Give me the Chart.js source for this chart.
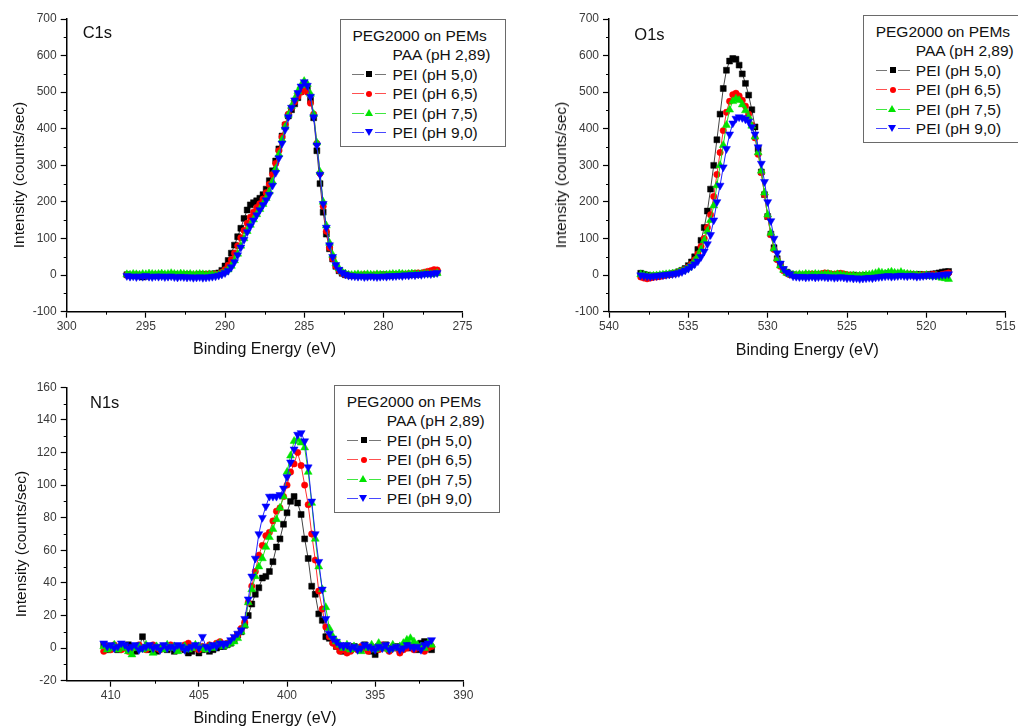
<!DOCTYPE html>
<html>
<head>
<meta charset="utf-8">
<script src="https://cdn.jsdelivr.net/npm/chart.js@4.4.1/dist/chart.umd.min.js"></script>
<style>
  html, body { margin: 0; padding: 0; background: #fff; }
  body { width: 1018px; height: 727px; position: relative; overflow: hidden;
         font-family: 'Liberation Sans', Arial, sans-serif; }
  .panel { position: absolute; }
  .panel canvas { display: block; }
  .tag { position: absolute; font-size: 16.5px; line-height: 16.5px; color: #111; white-space: nowrap; }
  .ytitle { position: absolute; font-size: 15.5px; line-height: 16px; color: #111; white-space: nowrap;
            transform: translate(-50%, -50%) rotate(-90deg); }
  .legend { position: absolute; box-sizing: border-box; width: 166px; height: 128px;
            border: 1px solid #6a6a6a; background: #fff; font-size: 15.5px; color: #111; }
  .legend .row { position: absolute; height: 19px; line-height: 19px; white-space: nowrap; }
  .legend .sym { position: absolute; width: 34px; height: 19px; }
  .legend .ln { position: absolute; top: 9px; height: 1px; }
  .legend .mk { position: absolute; }
</style>
</head>
<body>
<div class="panel" id="p1" style="left:0;top:0;"><canvas id="c1" width="500" height="365"></canvas></div>
<div class="panel" id="p2" style="left:540px;top:0;"><canvas id="c2" width="478" height="365"></canvas></div>
<div class="panel" id="p3" style="left:0;top:370px;"><canvas id="c3" width="500" height="357"></canvas></div>

<script>
// ---------- series names and legend text ----------
const seriesLabels = ['PEI (pH 5,0)', 'PEI (pH 6,5)', 'PEI (pH 7,5)', 'PEI (pH 9,0)'];
const legendHeader = 'PEG2000 on PEMs';
const legendSubHeader = 'PAA (pH 2,89)';
const panelNames = ['C1s', 'O1s', 'N1s'];
const xAxisTitle = 'Binding Energy (eV)';
const yAxisTitle = 'Intensity (counts/sec)';

// ---------- C1s ----------
const c1sEnergy = [
  296.2,296.0,295.8,295.6,295.4,295.2,295.0,294.8,294.6,294.4,
  294.2,294.0,293.8,293.6,293.4,293.2,293.0,292.8,292.6,292.4,
  292.2,292.0,291.8,291.6,291.4,291.2,291.0,290.8,290.6,290.4,
  290.2,290.0,289.8,289.6,289.4,289.2,289.0,288.8,288.6,288.4,
  288.2,288.0,287.8,287.6,287.4,287.2,287.0,286.8,286.6,286.4,
  286.2,286.0,285.8,285.6,285.4,285.2,285.0,284.8,284.6,284.4,
  284.2,284.0,283.8,283.6,283.4,283.2,283.0,282.8,282.6,282.4,
  282.2,282.0,281.8,281.6,281.4,281.2,281.0,280.8,280.6,280.4,
  280.2,280.0,279.8,279.6,279.4,279.2,279.0,278.8,278.6,278.4,
  278.2,278.0,277.8,277.6,277.4,277.2,277.0,276.8,276.6
];
const c1sPH50 = [
  1,0,-1,0,-2,-5,-3,-1,0,-1,0,1,0,-1,0,1,0,-1,0,1,0,-1,0,1,2,1,2,3,4,
  6,13,25,40,60,82,105,128,155,178,192,198,203,210,220,235,258,285,312,345,
  380,410,435,452,468,485,502,515,510,478,430,340,250,172,112,72,44,24,12,5,1,0,-1,
  -1,0,-1,0,-2,-1,0,-1,0,1,0,-1,0,1,0,1,2,1,2,3,2,4,5,4,6,7,8
];
const c1sPH65 = [
  0,-1,0,1,0,-1,-2,-1,0,1,0,-1,0,0,1,0,-1,0,1,0,1,0,1,2,1,2,3,2,3,
  3,8,15,27,42,60,80,102,122,142,158,172,185,195,208,225,248,275,305,340,
  378,412,440,458,474,488,500,510,500,470,440,360,278,188,120,75,45,25,13,6,2,0,-1,
  0,-1,0,1,0,-1,0,1,0,-1,0,1,2,1,2,3,2,4,3,5,6,5,8,10,12,15,14
];
const c1sPH75 = [
  2,1,3,2,1,3,2,4,3,2,3,4,2,3,5,3,2,4,3,2,3,1,2,3,2,1,2,1,0,
  1,4,8,15,25,40,58,80,100,120,137,152,166,180,194,210,228,255,290,330,
  370,405,438,462,482,502,518,530,522,495,440,362,282,200,135,88,55,32,18,9,4,1,0,
  1,2,0,1,2,1,0,2,1,0,1,2,3,2,4,3,2,3,4,3,2,3,4,3,2,3,5
];
const c1sPH90 = [
  -2,-4,-3,-5,-3,-4,-2,-4,-5,-3,-4,-3,-5,-4,-3,-5,-6,-4,-5,-6,-5,-7,-6,-5,-7,-6,-5,-4,-3,
  -1,2,6,12,22,36,55,76,97,118,134,150,164,178,192,205,220,245,280,320,
  360,398,432,458,478,498,516,528,518,488,432,355,275,195,130,82,50,28,15,7,2,-1,-2,
  -3,-4,-3,-5,-4,-3,-4,-5,-4,-3,-4,-2,-3,-2,-1,-2,0,-1,1,0,2,1,3,4,3,5,6
];

// ---------- O1s ----------
const o1sEnergy = [
  538.0,537.8,537.6,537.4,537.2,537.0,536.8,536.6,536.4,536.2,
  536.0,535.8,535.6,535.4,535.2,535.0,534.8,534.6,534.4,534.2,
  534.0,533.8,533.6,533.4,533.2,533.0,532.8,532.6,532.4,532.2,
  532.0,531.8,531.6,531.4,531.2,531.0,530.8,530.6,530.4,530.2,
  530.0,529.8,529.6,529.4,529.2,529.0,528.8,528.6,528.4,528.2,
  528.0,527.8,527.6,527.4,527.2,527.0,526.8,526.6,526.4,526.2,
  526.0,525.8,525.6,525.4,525.2,525.0,524.8,524.6,524.4,524.2,
  524.0,523.8,523.6,523.4,523.2,523.0,522.8,522.6,522.4,522.2,
  522.0,521.8,521.6,521.4,521.2,521.0,520.8,520.6,520.4,520.2,
  520.0,519.8,519.6,519.4,519.2,519.0,518.8,518.6
];
const o1sPH50 = [
  5,2,0,-2,-3,-2,-1,0,1,2,4,
  6,9,13,18,26,36,50,70,95,130,175,235,300,370,440,510,560,585,592,590,
  574,550,524,492,452,405,345,282,220,160,112,75,45,28,15,8,3,
  1,-1,0,-2,-1,0,-1,1,0,-1,-2,-1,0,1,0,-1,0,-2,-1,0,-2,-3,-2,-1,-3,
  -2,-1,0,2,3,4,3,2,1,3,2,1,2,0,1,2,1,0,2,3,4,6,8,9,10
];
const o1sPH65 = [
  -5,-8,-10,-8,-6,-5,-4,-2,0,2,3,
  5,8,12,16,22,30,42,58,78,100,130,165,215,275,335,395,445,475,493,497,
  490,478,462,440,410,375,330,280,220,160,110,70,42,24,12,5,1,
  0,-1,1,0,2,1,3,2,1,4,6,5,3,2,4,5,3,1,0,-2,-3,-2,-4,-3,-5,
  -3,-2,0,1,2,3,2,4,3,2,1,3,2,0,-1,0,1,-1,0,2,1,-1,2,4,6
];
const o1sPH75 = [
  2,0,-2,-3,-2,-1,0,1,2,3,4,
  5,8,11,15,20,27,38,52,70,95,120,150,190,245,300,355,410,452,475,482,
  478,466,450,432,408,378,335,285,225,165,115,72,45,26,14,6,2,
  1,0,2,1,3,2,1,3,2,1,2,3,1,0,2,1,0,-1,-2,-1,-3,-2,-1,0,1,
  3,5,8,6,4,7,9,6,5,8,4,3,2,1,0,-1,-2,0,-3,-4,-2,-5,-8,-9,-11
];
const o1sPH90 = [
  0,-2,-3,-4,-3,-2,-1,0,1,2,3,
  4,6,9,13,18,24,30,38,50,65,85,110,150,200,245,295,345,385,415,428,
  432,430,426,420,405,385,350,305,255,200,148,100,60,32,17,8,3,
  -3,-4,-5,-4,-6,-5,-4,-6,-5,-4,-5,-6,-5,-7,-6,-5,-6,-8,-7,-9,-8,-10,-9,-8,-7,
  -8,-6,-5,-4,-3,-2,-4,-3,-2,-1,-2,-3,-1,-2,-4,-3,-2,-1,0,-2,-1,0,1,2,3
];

// ---------- N1s ----------
const n1sEnergy = [
  410.4,410.2,410.0,409.8,409.6,409.4,409.2,409.0,408.8,408.6,
  408.4,408.2,408.0,407.8,407.6,407.4,407.2,407.0,406.8,406.6,
  406.4,406.2,406.0,405.8,405.6,405.4,405.2,405.0,404.8,404.6,
  404.4,404.2,404.0,403.8,403.6,403.4,403.2,403.0,402.8,402.6,
  402.4,402.2,402.0,401.8,401.6,401.4,401.2,401.0,400.8,400.6,
  400.4,400.2,400.0,399.8,399.6,399.4,399.2,399.0,398.8,398.6,
  398.4,398.2,398.0,397.8,397.6,397.4,397.2,397.0,396.8,396.6,
  396.4,396.2,396.0,395.8,395.6,395.4,395.2,395.0,394.8,394.6,
  394.4,394.2,394.0,393.8,393.6,393.4,393.2,393.0,392.8,392.6,
  392.4,392.2,392.0,391.8
];
const n1sPH50 = [
  2,-1,1,0,-1,1,0,2,1,-2,0,7,0,-1,1,-2,0,1,-1,0,-2,1,0,-1,-3,-2,0,-3,-1,0,-2,-1,0,1,
  1,2,3,5,8,10,14,20,27,33,37,43,44,47,53,62,67,76,83,90,93,89,82,67,55,38,33,21,17,7,6,4,1,-1,
  -2,0,-1,1,0,-1,2,0,-2,-4,1,0,2,-1,0,1,-1,0,2,0,1,-1,3,4,0,-1
];
const n1sPH65 = [
  -2,1,-1,2,0,-1,1,-2,0,1,2,0,-1,1,2,0,-1,1,0,2,1,-1,0,2,3,1,0,-1,1,0,2,1,3,4,
  2,3,4,6,8,12,16,28,38,47,57,63,69,71,78,84,86,93,100,108,113,120,112,100,88,70,54,35,24,13,7,3,1,-2,
  -1,-3,-2,0,-1,1,0,-2,1,0,-1,2,0,-2,1,0,-3,-1,0,1,-1,0,1,-2,0,1
];
const n1sPH75 = [
  1,-1,0,2,-1,1,0,-2,-4,0,1,-1,2,0,-3,1,0,-1,2,0,1,-2,0,1,-1,0,2,1,0,-1,1,0,2,3,
  1,2,3,4,6,10,14,28,36,44,50,55,62,68,73,79,86,93,108,118,127,128,126,123,108,89,67,50,36,25,12,7,4,2,
  0,2,-1,1,0,-2,1,0,2,-1,3,0,1,-1,2,0,1,3,5,6,4,2,1,0,3,2
];
const n1sPH90 = [
  3,1,2,0,1,3,2,0,1,2,-1,0,1,2,0,1,-1,2,0,1,0,2,1,-1,0,1,2,0,7,1,0,2,1,3,
  2,3,5,7,9,11,18,30,44,55,70,80,87,93,93,93,94,98,105,114,122,131,132,127,111,90,70,53,36,18,9,6,4,2,
  1,2,0,1,-1,0,2,1,0,-1,1,0,2,-1,0,1,-1,0,2,1,0,1,-1,2,3,5
];

// ---------- axis ranges and tick steps ----------
const c1sXRange = [275, 300], c1sXStep = 5, c1sYRange = [-100, 700], c1sYStep = 100;
const o1sXRange = [515, 540], o1sXStep = 5, o1sYRange = [-100, 700], o1sYStep = 100;
const n1sXRange = [390, 412.5], n1sXStep = 5, n1sYRange = [-20, 160], n1sYStep = 20;

// ---------- appearance ----------
const seriesColors = ['#000000', '#ff0000', '#00e400', '#0000ff'];
const seriesLineColors = ['#444444', '#ff3030', '#20e020', '#2020ff'];
const legendLineColors = ['#777777', '#ff5050', '#40e840', '#4848ff'];
const seriesShapes = ['rect', 'circle', 'triangle', 'triangle'];
const seriesRotation = [0, 0, 0, 180];
const seriesRadius = [4.2, 3.2, 4.6, 4.6];
const seriesDrawOrder = [3, 2, 1, 0];

Chart.defaults.font.family = "'Liberation Sans', Arial, sans-serif";

// short outward tick marks halfway between the labelled ones
const minorTicks = {
  id: 'minorTicks',
  afterDraw(chart, args, opts) {
    const { ctx } = chart;
    const xs = chart.scales.x, ys = chart.scales.y;
    ctx.save();
    ctx.strokeStyle = '#000';
    ctx.lineWidth = 1;
    ctx.beginPath();
    const isMajor = (v, major) => Math.abs(v / major - Math.round(v / major)) < 1e-9;
    for (let k = Math.ceil(xs.min / opts.x); k * opts.x <= xs.max + 1e-9; k++) {
      const v = k * opts.x;
      if (isMajor(v, opts.xMajor) || v === xs.min || v === xs.max) continue;
      const px = Math.round(xs.getPixelForValue(v)) + 0.5;
      ctx.moveTo(px, xs.top);
      ctx.lineTo(px, xs.top + opts.len);
    }
    for (let k = Math.ceil(ys.min / opts.y); k * opts.y <= ys.max + 1e-9; k++) {
      const v = k * opts.y;
      if (isMajor(v, opts.yMajor) || v === ys.min || v === ys.max) continue;
      const py = Math.round(ys.getPixelForValue(v)) + 0.5;
      ctx.moveTo(ys.right, py);
      ctx.lineTo(ys.right - opts.len, py);
    }
    ctx.stroke();
    ctx.restore();
  }
};

function buildDatasets(energy, series) {
  return series.map((vals, i) => ({
    label: seriesLabels[i],
    data: energy.map((e, j) => ({ x: e, y: vals[j] })),
    showLine: true,
    borderColor: seriesLineColors[i],
    borderWidth: 1,
    backgroundColor: seriesColors[i],
    pointBackgroundColor: seriesColors[i],
    pointBorderColor: seriesColors[i],
    pointBorderWidth: 0.5,
    pointStyle: seriesShapes[i],
    pointRotation: seriesRotation[i],
    pointRadius: seriesRadius[i],
    order: seriesDrawOrder[i],
    tension: 0
  }));
}

function makeChart(canvasId, energy, series, ax, geo) {
  const tickFont = { size: 12 };
  const titleFont = { size: 16, lineHeight: 1 };
  return new Chart(document.getElementById(canvasId), {
    type: 'scatter',
    data: { datasets: buildDatasets(energy, series) },
    plugins: [minorTicks],
    options: {
      responsive: false,
      animation: false,
      devicePixelRatio: 1,
      events: [],
      layout: { padding: { top: geo.padTop, right: geo.padRight, left: 0, bottom: 0 } },
      plugins: {
        legend: { display: false },
        tooltip: { enabled: false },
        minorTicks: { x: ax.xStep / 2, xMajor: ax.xStep, y: ax.yStep / 2, yMajor: ax.yStep, len: 3 }
      },
      scales: {
        x: {
          type: 'linear',
          reverse: true,
          min: ax.xRange[0], max: ax.xRange[1],
          afterFit: (s) => { s.height = geo.xHeight; },
          ticks: { stepSize: ax.xStep, includeBounds: false, padding: 2, color: '#3a3a3a', font: tickFont, maxRotation: 0 },
          grid: { drawOnChartArea: false, drawTicks: true, tickLength: 6, tickWidth: 1.2, tickColor: '#000' },
          border: { display: true, color: '#000', width: 1.5 },
          title: { display: true, text: xAxisTitle, color: '#111', font: titleFont, padding: { top: 0, bottom: geo.xTitlePad } }
        },
        y: {
          type: 'linear',
          min: ax.yRange[0], max: ax.yRange[1],
          afterFit: (s) => { s.width = geo.yWidth; },
          ticks: { stepSize: ax.yStep, padding: 4, color: '#3a3a3a', font: tickFont },
          grid: { drawOnChartArea: false, drawTicks: true, tickLength: 6, tickWidth: 1.2, tickColor: '#000' },
          border: { display: true, color: '#000', width: 1.5 },
          title: { display: false }
        }
      }
    }
  });
}

// HTML legend built from the chart's own datasets
function makeLegend(chart, left, top) {
  const box = document.createElement('div');
  box.className = 'legend';
  box.style.left = left + 'px';
  box.style.top = top + 'px';
  const addRow = (text, x, y) => {
    const r = document.createElement('div');
    r.className = 'row';
    r.textContent = text;
    r.style.left = x + 'px';
    r.style.top = y + 'px';
    box.appendChild(r);
  };
  addRow(legendHeader, 11.4, 6.2);
  addRow(legendSubHeader, 51.5, 25.2);
  chart.data.datasets.forEach((ds, i) => {
    const rowTop = 44.7 + 19.5 * i;
    const sym = document.createElement('div');
    sym.className = 'sym';
    sym.style.left = '11.4px';
    sym.style.top = rowTop + 'px';
    [[0, 11.5], [22.5, 11.5]].forEach(([x, w]) => {
      const ln = document.createElement('div');
      ln.className = 'ln';
      ln.style.left = x + 'px';
      ln.style.width = w + 'px';
      ln.style.background = legendLineColors[i];
      sym.appendChild(ln);
    });
    const mk = document.createElement('div');
    mk.className = 'mk';
    const c = ds.pointBackgroundColor;
    if (ds.pointStyle === 'rect') {
      Object.assign(mk.style, { width: '6px', height: '6px', background: c, left: '14px', top: '6.5px' });
    } else if (ds.pointStyle === 'circle') {
      Object.assign(mk.style, { width: '6px', height: '6px', background: c, borderRadius: '50%', left: '14px', top: '6.5px' });
    } else if (ds.pointRotation === 180) {
      Object.assign(mk.style, { width: 0, height: 0, borderLeft: '4.5px solid transparent', borderRight: '4.5px solid transparent',
        borderTop: '7.5px solid ' + c, left: '12.5px', top: '5.8px' });
    } else {
      Object.assign(mk.style, { width: 0, height: 0, borderLeft: '4.5px solid transparent', borderRight: '4.5px solid transparent',
        borderBottom: '7.5px solid ' + c, left: '12.5px', top: '5.5px' });
    }
    sym.appendChild(mk);
    box.appendChild(sym);
    addRow(ds.label, 51.5, rowTop);
  });
  document.body.appendChild(box);
}

function makeText(cls, text, left, top) {
  const t = document.createElement('div');
  t.className = cls;
  t.textContent = text;
  t.style.left = left + 'px';
  t.style.top = top + 'px';
  document.body.appendChild(t);
}

const chartC1s = makeChart('c1', c1sEnergy, [c1sPH50, c1sPH65, c1sPH75, c1sPH90],
  { xRange: c1sXRange, xStep: c1sXStep, yRange: c1sYRange, yStep: c1sYStep },
  { padTop: 19, padRight: 37.5, yWidth: 66.7, xHeight: 53.3, xTitlePad: 7 });
const chartO1s = makeChart('c2', o1sEnergy, [o1sPH50, o1sPH65, o1sPH75, o1sPH90],
  { xRange: o1sXRange, xStep: o1sXStep, yRange: o1sYRange, yStep: o1sYStep },
  { padTop: 19, padRight: 12.3, yWidth: 69, xHeight: 53.3, xTitlePad: 6.5 });
const chartN1s = makeChart('c3', n1sEnergy, [n1sPH50, n1sPH65, n1sPH75, n1sPH90],
  { xRange: n1sXRange, xStep: n1sXStep, yRange: n1sYRange, yStep: n1sYStep },
  { padTop: 17.3, padRight: 36.7, yWidth: 66.7, xHeight: 46.3, xTitlePad: 0 });

// vertical axis titles (centre points)
makeText('ytitle', yAxisTitle, 18.5, 175);
makeText('ytitle', yAxisTitle, 560.8, 175);
makeText('ytitle', yAxisTitle, 20.8, 544);

makeText('tag', panelNames[0], 82.7, 23.9);
makeText('tag', panelNames[1], 634.3, 25.5);
makeText('tag', panelNames[2], 90, 393.9);

makeLegend(chartC1s, 340, 19);
makeLegend(chartO1s, 863.3, 15);
makeLegend(chartN1s, 334.3, 385);
</script>
</body>
</html>
